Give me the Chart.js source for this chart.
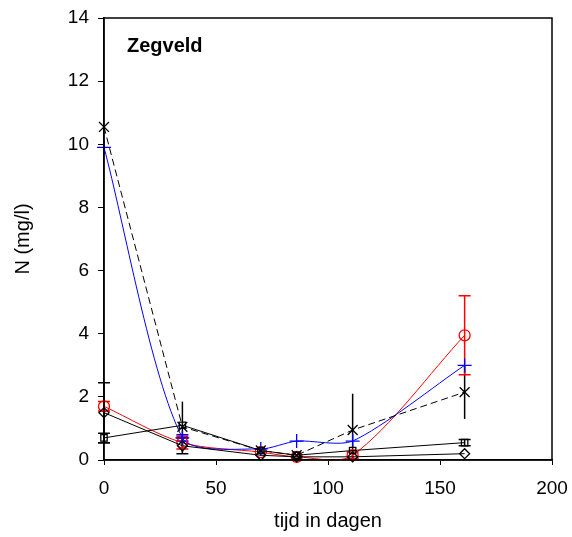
<!DOCTYPE html>
<html>
<head>
<meta charset="utf-8">
<script src="https://cdn.jsdelivr.net/npm/chart.js@4.4.1/dist/chart.umd.min.js"></script>
<style>
  html, body { margin: 0; padding: 0; background: #fff; }
  #wrap { width: 572px; height: 537px; position: relative; }
</style>
</head>
<body>
<div id="wrap"><canvas id="chart"></canvas></div>
<script>
// meetmomenten (dagen)
const dagen = [0, 35, 70, 86, 111, 161];

// series (N in mg/l)
const ruit   = [1.5, 0.45, 0.15, 0.1, 0.1, 0.2];
const vierkant = [0.7, 1.1, 0.3, 0.15, 0.3, 0.55];
const kruis  = [10.55, 1.05, 0.3, 0.15, 0.95, 2.15];
const plus   = [9.9, 0.7, 0.35, 0.6, 0.6, 3.0];
const cirkel = [1.7, 0.55, 0.25, 0.1, 0.15, 3.95];

// foutbalken (+/-)
const ruitErr   = [0.95, 0.25, null, null, null, null];
const vierkantErr = [0.15, null, null, null, null, 0.1];
const kruisErr  = [null, 0.8, null, null, 1.15, 0.85];
const plusErr   = [null, 0.1, null, null, null, null];
const cirkelErr = [0.15, 0.2, null, null, 0.1, 1.25];

const xTicks = [0, 50, 100, 150, 200];
const yTicks = [0, 2, 4, 6, 8, 10, 12, 14];

const pts = (arr) => dagen.map((d, i) => ({ x: d, y: arr[i] }));

function serie(data, err, kleur, stijl, opts) {
  return Object.assign({
    data: pts(data),
    err: err,
    caps: true,
    borderColor: kleur,
    backgroundColor: 'rgba(0,0,0,0)',
    pointBorderColor: kleur,
    pointBackgroundColor: 'rgba(0,0,0,0)',
    pointStyle: stijl,
    pointRadius: 5,
    pointBorderWidth: 1.3,
    borderWidth: 1,
    tension: 0,
    clip: false
  }, opts || {});
}

// foutbalken + kader + titel
const extras = {
  id: 'extras',
  beforeDatasetsDraw(chart) {
    const ctx = chart.ctx;
    const xs = chart.scales.x, ys = chart.scales.y;
    chart.data.datasets.forEach(ds => {
      if (!ds.err) return;
      ctx.save();
      ctx.strokeStyle = ds.borderColor;
      ctx.lineWidth = 1.5;
      ds.data.forEach((p, i) => {
        const e = ds.err[i];
        if (e == null) return;
        const px = xs.getPixelForValue(p.x);
        const top = ys.getPixelForValue(p.y + e);
        const bot = ys.getPixelForValue(Math.max(p.y - e, 0));
        ctx.beginPath();
        ctx.moveTo(px, top); ctx.lineTo(px, bot);
        if (ds.caps) {
          ctx.moveTo(px - 6, top); ctx.lineTo(px + 6, top);
          if (p.y - e > 0) { ctx.moveTo(px - 6, bot); ctx.lineTo(px + 6, bot); }
        }
        ctx.stroke();
      });
      ctx.restore();
    });
  },
  afterDatasetsDraw(chart) {
    const ctx = chart.ctx;
    const a = chart.chartArea;
    ctx.save();
    ctx.strokeStyle = '#000';
    ctx.lineWidth = 1.5;
    ctx.strokeRect(a.left, a.top, a.right - a.left, a.bottom - a.top);
    ctx.fillStyle = '#000';
    ctx.font = 'bold 20px "Liberation Sans", Arial, sans-serif';
    ctx.textBaseline = 'middle';
    ctx.fillText('Zegveld', a.left + 23, a.top + 28);
    ctx.restore();
  }
};

Chart.defaults.font.family = '"Liberation Sans", Arial, sans-serif';
Chart.defaults.font.size = 19;
Chart.defaults.color = '#000';

new Chart(document.getElementById('chart'), {
  type: 'line',
  data: {
    datasets: [
      serie(ruit, ruitErr, '#000', 'rectRot'),
      serie(vierkant, vierkantErr, '#000', 'rect', { pointRadius: 4.5 }),
      serie(kruis, kruisErr, '#000', 'crossRot', { borderDash: [7, 4], pointRadius: 7, caps: false }),
      serie(plus, plusErr, '#0000ff', 'cross', { tension: 0.25, pointRadius: 7 }),
      serie(cirkel, cirkelErr, '#ff0000', 'circle', { tension: 0.3, pointRadius: 5.5 })
    ]
  },
  options: {
    responsive: true,
    maintainAspectRatio: false,
    animation: false,
    elements: { line: { capBezierPoints: false } },
    layout: { padding: { left: 4, right: 20, top: 18, bottom: 2 } },
    plugins: { legend: { display: false }, tooltip: { enabled: false } },
    scales: {
      x: {
        type: 'linear',
        min: 0, max: 200,
        afterBuildTicks: s => { s.ticks = xTicks.map(v => ({ value: v })); },
        afterFit: s => { s.height = 75; s.paddingLeft = 0; s.paddingRight = 0; },
        grid: { drawOnChartArea: false, tickLength: 5, tickColor: '#000' },
        border: { color: '#000', width: 1.5 },
        ticks: { padding: 12 },
        title: { display: true, text: 'tijd in dagen', font: { size: 20 }, padding: { top: 0, bottom: 2 } }
      },
      y: {
        min: 0, max: 14,
        afterBuildTicks: s => { s.ticks = yTicks.map(v => ({ value: v })); },
        afterFit: s => { s.width = 100; s.paddingTop = 0; s.paddingBottom = 0; },
        grid: { drawOnChartArea: false, tickLength: 6, tickColor: '#000' },
        border: { color: '#000', width: 1.5 },
        ticks: { padding: 9 },
        title: { display: true, text: 'N (mg/l)', font: { size: 20 }, padding: { top: 7, bottom: 0 } }
      }
    }
  },
  plugins: [extras]
});
</script>
</body>
</html>
